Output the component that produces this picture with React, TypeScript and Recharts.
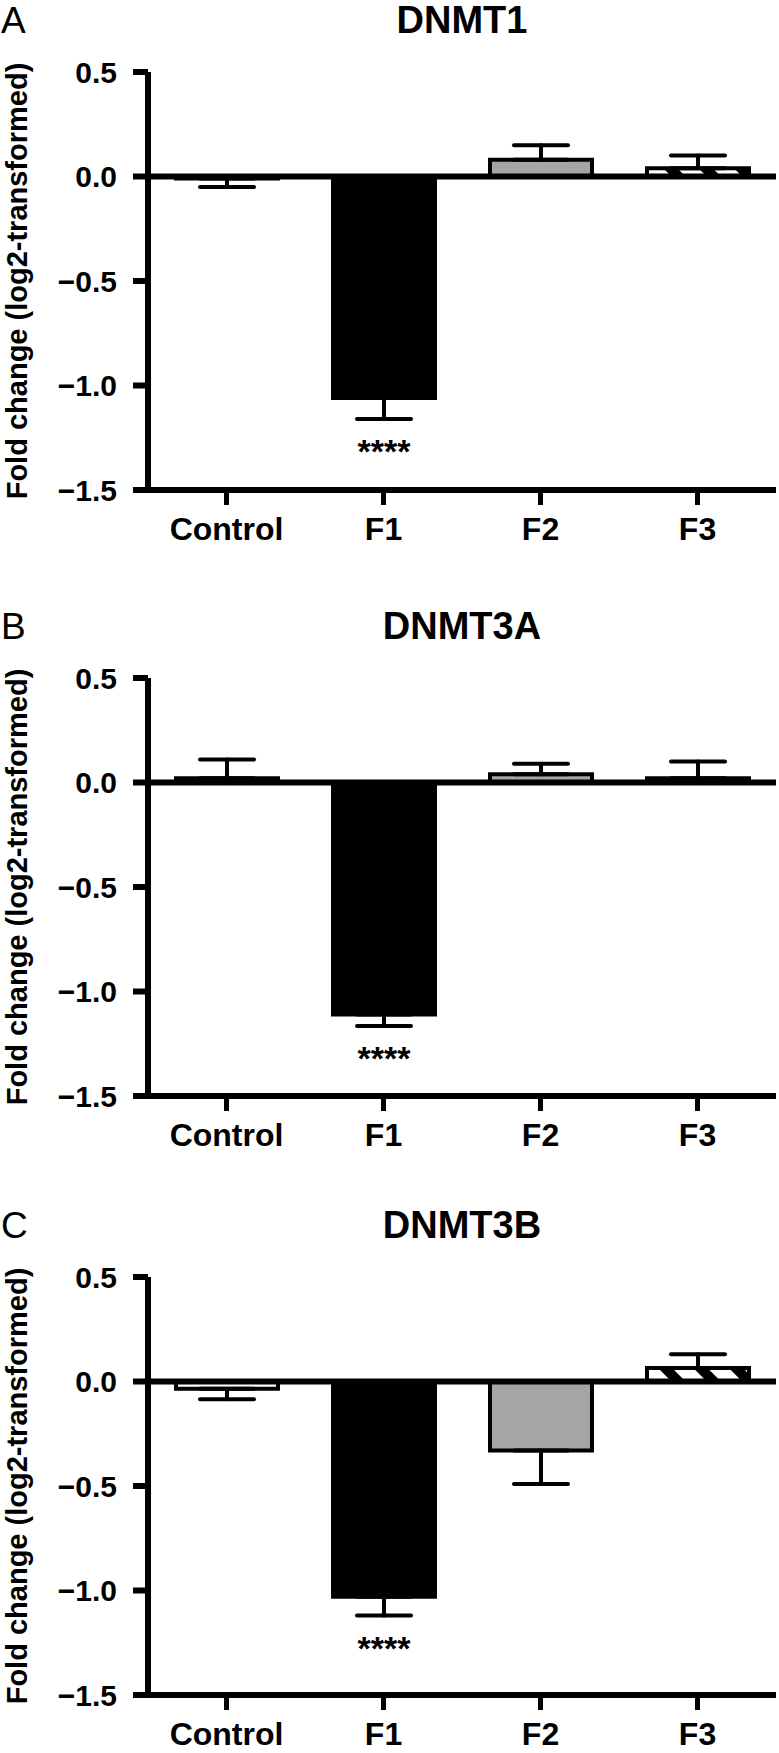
import React from 'react';
import { BarChart, Bar, XAxis, YAxis, ErrorBar, ReferenceLine, Cell, LabelList } from 'recharts';

const categories = ['Control', 'F1', 'F2', 'F3'];
const dnmt1Mean = [-0.01, -1.06, 0.08, 0.04];
const dnmt1Err = [0.04, 0.1, 0.07, 0.06];
const dnmt3aMean = [0.02, -1.11, 0.04, 0.02];
const dnmt3aErr = [0.09, 0.055, 0.05, 0.08];
const dnmt3bMean = [-0.035, -1.03, -0.33, 0.065];
const dnmt3bErr = [0.05, 0.09, 0.16, 0.065];
const significance = ['', '****', '', ''];
const yTicks = [0.5, 0, -0.5, -1, -1.5];
const panelTitles = ['DNMT1', 'DNMT3A', 'DNMT3B'];
const panelLetters = ['A', 'B', 'C'];
const yLabel = 'Fold change (log2-transformed)';

const FONT = '"Liberation Sans", Arial, Helvetica, sans-serif';
const PANEL_TOPS = [0, 606, 1205];

type Row = { cat: string; mean: number; err: number; range: number[]; sig: string };

function buildRows(means: number[], errs: number[]): Row[] {
  return categories.map((c, i) => ({
    cat: c,
    mean: means[i],
    err: errs[i],
    range: means[i] >= 0 ? [0, errs[i]] : [errs[i], 0],
    sig: significance[i],
  }));
}

const fmt = (v: number) => {
  if (v === 0) return '0.0';
  return (v < 0 ? '\u2212' : '') + Math.abs(v).toFixed(1);
};

const makeStars = (rows: Row[]) => (props: any) => {
  const { index, value } = props;
  if (!value) return null;
  const vb = props.viewBox && props.viewBox.width !== undefined ? props.viewBox : props;
  const x = Number(vb.x);
  const y = Number(vb.y);
  const w = Number(vb.width);
  const h = Number(vb.height);
  const row = rows[index];
  const bottom = Math.max(y, y + h);
  const px = Math.abs(h) / Math.abs(row.mean);
  const capY = bottom + row.err * px;
  return (
    <text
      x={x + w / 2}
      y={capY + 44}
      textAnchor="middle"
      fontSize={34}
      fontWeight="bold"
      fontFamily={FONT}
      fill="#000"
    >
      {value}
    </text>
  );
};

function Panel({ means, errs, idx }: { means: number[]; errs: number[]; idx: number }) {
  const rows = buildRows(means, errs);
  const fills = ['#ffffff', '#000000', '#a5a5a5', `url(#hatch${idx})`];
  const axisStyle = { stroke: '#000', strokeWidth: 6 };
  return (
    <div style={{ position: 'absolute', left: 0, top: PANEL_TOPS[idx], width: 779, height: 560 }}>
      <BarChart
        width={779}
        height={560}
        data={rows}
        margin={{ top: 72, right: 3, bottom: 14, left: 0 }}
      >
        <XAxis
          dataKey="cat"
          height={56}
          tickSize={15}
          tickMargin={12}
          interval={0}
          axisLine={axisStyle}
          tickLine={{ stroke: '#000', strokeWidth: 5 }}
          tick={{ fill: '#000', fontSize: 32, fontWeight: 'bold', fontFamily: FONT }}
        />
        <YAxis
          width={148}
          domain={[-1.5, 0.5]}
          ticks={yTicks}
          interval={0}
          allowDataOverflow
          tickSize={15}
          tickMargin={16}
          tickFormatter={fmt}
          axisLine={axisStyle}
          tickLine={{ stroke: '#000', strokeWidth: 6 }}
          tick={{ fill: '#000', fontSize: 30, fontWeight: 'bold', fontFamily: FONT }}
          label={{
            value: yLabel,
            angle: -90,
            position: 'insideLeft',
            offset: 17,
            style: { textAnchor: 'middle', fontSize: 29, fontWeight: 'bold', fontFamily: FONT, fill: '#000' },
          }}
        />
        <Bar dataKey="mean" barSize={102} stroke="#000" strokeWidth={4} isAnimationActive={false}>
          {rows.map((r, i) => (
            <Cell key={r.cat} fill={fills[i]} />
          ))}
          <ErrorBar
            dataKey="range"
            width={27}
            stroke="#000"
            strokeWidth={4}
            strokeLinecap="round"
            isAnimationActive={false}
          />
          <LabelList dataKey="sig" content={makeStars(rows)} />
        </Bar>
        <ReferenceLine y={0} stroke="#000" strokeWidth={6} />
      </BarChart>
      <svg width={779} height={50} style={{ position: 'absolute', left: 0, top: 0 }}>
        <text x={1} y={33} fontSize={37} fontFamily={FONT} fill="#000">
          {panelLetters[idx]}
        </text>
        <text x={462} y={33} textAnchor="middle" fontSize={38} fontWeight="bold" fontFamily={FONT} fill="#000">
          {panelTitles[idx]}
        </text>
      </svg>
    </div>
  );
}

export default function App() {
  return (
    <div
      style={{
        position: 'absolute',
        left: 0,
        top: 0,
        width: 779,
        height: 1753,
        overflow: 'hidden',
        background: '#fff',
      }}
    >
      <svg width={0} height={0} style={{ position: 'absolute' }}>
        <defs>
          {[0, 1, 2].map((i) => (
            <pattern
              key={i}
              id={`hatch${i}`}
              patternUnits="userSpaceOnUse"
              width={25}
              height={25}
              patternTransform="rotate(-45)"
            >
              <rect x={0} y={0} width={25} height={25} fill="#fff" />
              <rect x={0} y={0} width={10} height={25} fill="#000" />
            </pattern>
          ))}
        </defs>
      </svg>
      <Panel means={dnmt1Mean} errs={dnmt1Err} idx={0} />
      <Panel means={dnmt3aMean} errs={dnmt3aErr} idx={1} />
      <Panel means={dnmt3bMean} errs={dnmt3bErr} idx={2} />
    </div>
  );
}
